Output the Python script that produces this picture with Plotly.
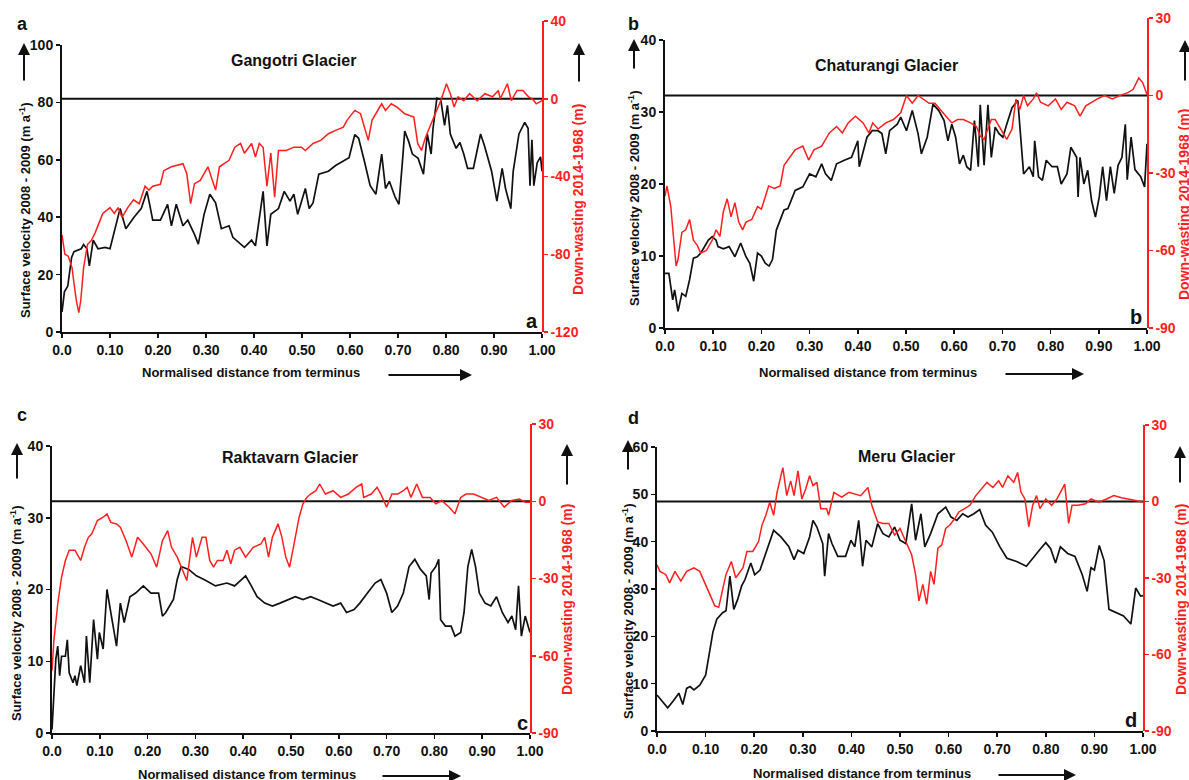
import plotly.graph_objects as go

W, H = 1189, 780

# ---------------- data ----------------
x_tick_values = [0.0, 0.1, 0.2, 0.3, 0.4, 0.5, 0.6, 0.7, 0.8, 0.9, 1.0]
x_tick_labels = ["0.0", "0.10", "0.20", "0.30", "0.40", "0.50", "0.60", "0.70", "0.80", "0.90", "1.00"]

# Gangotri (a): (normalised distance, value)
gangotri_velocity = [
    (0.000, 7), (0.005, 14), (0.012, 16), (0.020, 26), (0.025, 28), (0.040, 29), (0.045, 30.5),
    (0.052, 29), (0.057, 23), (0.065, 32), (0.075, 29), (0.090, 29.5), (0.100, 29), (0.109, 35),
    (0.117, 41), (0.121, 43), (0.133, 36), (0.150, 40), (0.165, 43), (0.177, 49), (0.182, 45),
    (0.189, 39), (0.205, 39), (0.220, 44.5), (0.228, 37), (0.238, 44.5), (0.252, 37), (0.262, 39),
    (0.276, 34), (0.284, 30.6), (0.296, 41), (0.308, 48), (0.320, 45), (0.332, 36), (0.348, 37),
    (0.356, 33), (0.380, 29.5), (0.395, 32), (0.403, 30), (0.419, 49), (0.427, 30), (0.435, 41),
    (0.451, 43), (0.463, 49), (0.475, 45.6), (0.483, 48), (0.491, 41), (0.507, 50), (0.515, 43),
    (0.523, 45), (0.535, 55), (0.555, 56), (0.570, 58), (0.586, 59.5), (0.598, 60.7), (0.610, 68.8),
    (0.618, 67.5), (0.630, 59.5), (0.642, 51), (0.654, 48), (0.666, 62), (0.674, 50), (0.682, 52.5),
    (0.694, 47), (0.702, 44.5), (0.710, 61), (0.714, 70), (0.722, 66.5), (0.730, 62), (0.742, 60.5),
    (0.753, 55), (0.761, 69), (0.769, 62), (0.773, 71), (0.781, 81.5), (0.789, 81), (0.797, 72),
    (0.803, 79), (0.809, 69), (0.821, 64), (0.829, 66), (0.837, 62), (0.845, 57), (0.857, 57),
    (0.872, 69), (0.880, 65), (0.888, 60), (0.895, 56), (0.906, 45.6), (0.917, 57), (0.924, 50),
    (0.935, 43), (0.940, 56), (0.945, 61), (0.952, 69), (0.964, 73), (0.971, 71), (0.975, 51),
    (0.979, 67), (0.983, 51), (0.990, 59), (0.997, 61), (1.000, 56),
]
gangotri_downwasting = [
    (0.000, -70), (0.006, -80), (0.013, -81), (0.021, -87), (0.025, -95), (0.030, -104), (0.035, -110),
    (0.039, -104), (0.045, -87), (0.053, -75), (0.061, -73), (0.069, -69), (0.077, -64), (0.085, -59),
    (0.100, -56), (0.109, -59), (0.117, -56), (0.125, -61), (0.137, -56), (0.149, -52), (0.161, -54),
    (0.173, -45), (0.181, -47), (0.189, -45), (0.205, -44), (0.212, -37), (0.228, -35), (0.252, -33.4),
    (0.260, -38.6), (0.268, -54), (0.276, -43.7), (0.288, -42), (0.304, -35), (0.320, -47), (0.328, -35),
    (0.348, -31.7), (0.360, -24.9), (0.372, -23), (0.380, -28), (0.395, -23), (0.403, -30), (0.411, -23),
    (0.419, -25), (0.427, -45), (0.435, -28), (0.443, -50.6), (0.451, -26.6), (0.467, -26.6),
    (0.483, -24.9), (0.499, -24.9), (0.507, -26.6), (0.523, -23), (0.539, -21.4), (0.555, -18),
    (0.570, -16.3), (0.586, -14.6), (0.594, -11), (0.610, -6), (0.622, -7.7), (0.630, -14.6),
    (0.638, -21.4), (0.646, -11), (0.654, -7.7), (0.666, -2.6), (0.674, -6), (0.686, -2.6),
    (0.698, -4.3), (0.714, -7.7), (0.733, -9.4), (0.741, -23), (0.749, -26.6), (0.757, -20),
    (0.769, -12.9), (0.781, -6), (0.789, -1), (0.801, 7.7), (0.809, 2.6), (0.817, -4.3), (0.825, 1),
    (0.837, -1), (0.849, 2.6), (0.865, -1), (0.881, 2.6), (0.897, 1), (0.909, 4.3), (0.913, 0),
    (0.928, 7.7), (0.936, -1), (0.948, 4.3), (0.960, 4.3), (0.972, 1), (0.980, 0), (0.988, -2.6),
    (1.000, -1),
]

# Chaturangi (b)
chaturangi_velocity = [
    (0.000, 7.6), (0.008, 7.6), (0.016, 3.9), (0.020, 5.3), (0.027, 2.3), (0.035, 4.8), (0.043, 4.4),
    (0.051, 6.7), (0.059, 9.7), (0.067, 9.9), (0.074, 10.4), (0.082, 11.3), (0.090, 12.2), (0.098, 12.7),
    (0.106, 12.2), (0.110, 11.3), (0.121, 11), (0.133, 11.3), (0.145, 9.9), (0.157, 11.8), (0.168, 9.9),
    (0.176, 9), (0.184, 6.5), (0.192, 10.4), (0.200, 10), (0.208, 9), (0.216, 8.6), (0.223, 9.5),
    (0.231, 13.6), (0.247, 16.4), (0.255, 16.6), (0.270, 19.1), (0.286, 19.6), (0.300, 21.4),
    (0.313, 21), (0.325, 22.8), (0.333, 21.4), (0.345, 20.5), (0.356, 22.8), (0.372, 23.3),
    (0.387, 23.7), (0.400, 26), (0.403, 22.4), (0.419, 26.5), (0.430, 27.4), (0.442, 27.4),
    (0.450, 27), (0.458, 24.2), (0.466, 27.4), (0.482, 28.3), (0.489, 29.3), (0.501, 27.4),
    (0.513, 30.2), (0.525, 27), (0.532, 24.2), (0.544, 26.5), (0.556, 31.1), (0.568, 30.2),
    (0.579, 28.8), (0.587, 26), (0.595, 28.3), (0.603, 26.5), (0.611, 22.8), (0.619, 24),
    (0.626, 22.4), (0.634, 21.9), (0.642, 28.8), (0.650, 22.4), (0.654, 31), (0.662, 22.6),
    (0.670, 31), (0.677, 23.7), (0.685, 27.9), (0.693, 27), (0.701, 26.5), (0.709, 28.3),
    (0.720, 30.6), (0.732, 31.6), (0.736, 28), (0.744, 21.4), (0.756, 22.4), (0.764, 21),
    (0.767, 26), (0.775, 21), (0.783, 20.5), (0.791, 23.3), (0.803, 22.4), (0.814, 22.4),
    (0.822, 20), (0.834, 21.4), (0.842, 25.1), (0.854, 23.7), (0.857, 18.2), (0.861, 23.7),
    (0.869, 20), (0.877, 21.9), (0.885, 17.7), (0.893, 15.4), (0.901, 18.2), (0.908, 22.4),
    (0.916, 17.7), (0.924, 22.4), (0.932, 18.7), (0.940, 22.6), (0.948, 23.7), (0.955, 28.3),
    (0.959, 20.6), (0.967, 26.5), (0.975, 22), (0.987, 21), (0.995, 19.6), (1.000, 25.6),
]
chaturangi_downwasting = [
    (0.000, -39), (0.004, -35), (0.012, -43), (0.020, -61), (0.023, -66), (0.027, -63.5), (0.035, -53),
    (0.043, -52), (0.051, -48), (0.059, -56), (0.067, -58), (0.074, -61), (0.086, -60), (0.098, -56),
    (0.106, -52), (0.114, -54.5), (0.121, -45), (0.129, -40), (0.137, -47), (0.145, -41.5),
    (0.153, -49), (0.161, -52), (0.168, -49), (0.180, -48), (0.192, -43), (0.200, -44), (0.208, -39),
    (0.215, -35), (0.227, -36), (0.239, -35), (0.247, -27), (0.255, -25), (0.270, -21), (0.286, -19.6),
    (0.298, -25), (0.309, -21), (0.325, -19.6), (0.341, -14.5), (0.356, -12), (0.368, -14.5),
    (0.380, -10.6), (0.395, -8), (0.411, -10.6), (0.423, -14.5), (0.431, -10.6), (0.442, -13),
    (0.458, -10.6), (0.474, -9.3), (0.489, -6.7), (0.501, 0), (0.513, -3), (0.525, 0), (0.536, -1.3),
    (0.548, -3), (0.560, -3), (0.572, -5.4), (0.583, -8), (0.595, -10.6), (0.607, -9.3),
    (0.619, -9.3), (0.634, -10.6), (0.646, -12), (0.654, -15.7), (0.662, -17), (0.670, -13),
    (0.677, -9.3), (0.685, -9.3), (0.693, -12), (0.701, -14.5), (0.709, -17), (0.720, -13),
    (0.728, -1.5), (0.736, -5.4), (0.744, 0), (0.752, -4), (0.764, -1.3), (0.771, 1), (0.779, -2.6),
    (0.795, -4), (0.810, -1.3), (0.822, -5.4), (0.834, -2.6), (0.850, -4), (0.861, -8), (0.873, -4),
    (0.885, -2.6), (0.897, -1.3), (0.912, 0), (0.928, -1.3), (0.944, 0), (0.959, 1), (0.971, 2.3),
    (0.983, 6.8), (0.991, 5), (1.000, 0.4),
]

# Raktavarn (c)
raktavarn_velocity = [
    (0.000, 0.5), (0.004, 5.6), (0.008, 10.3), (0.012, 12.1), (0.016, 8), (0.020, 10.7), (0.028, 10.7),
    (0.032, 13), (0.036, 8.4), (0.044, 7), (0.048, 8), (0.052, 6.6), (0.060, 9.4), (0.068, 7),
    (0.072, 13.5), (0.079, 7), (0.087, 15.8), (0.095, 10.3), (0.099, 14), (0.107, 11.7), (0.115, 20),
    (0.123, 16.8), (0.135, 12.1), (0.143, 18.1), (0.151, 15.4), (0.163, 19), (0.175, 19.5),
    (0.191, 20.5), (0.207, 19.5), (0.223, 19.5), (0.231, 16.3), (0.238, 16.8), (0.254, 18.6),
    (0.262, 21.4), (0.270, 23.2), (0.286, 22.8), (0.302, 21.9), (0.318, 21.4), (0.330, 20.9),
    (0.342, 20.5), (0.366, 20.9), (0.382, 20.5), (0.397, 21.4), (0.405, 21.9), (0.417, 20.5),
    (0.429, 19), (0.445, 18.1), (0.461, 17.7), (0.477, 18.1), (0.493, 18.6), (0.509, 19),
    (0.525, 18.6), (0.541, 19), (0.556, 18.6), (0.572, 18.1), (0.588, 17.7), (0.604, 18.1),
    (0.616, 16.8), (0.632, 17.2), (0.644, 18.1), (0.660, 19.5), (0.676, 20.9), (0.688, 21.4),
    (0.700, 19.5), (0.711, 16.8), (0.723, 17.7), (0.735, 19.5), (0.747, 23.2), (0.759, 24.2),
    (0.771, 22.8), (0.783, 21.9), (0.789, 18.6), (0.793, 22.3), (0.803, 23.2), (0.809, 24.2),
    (0.813, 15.8), (0.823, 14.9), (0.835, 14.9), (0.843, 13.5), (0.855, 14), (0.862, 16.8),
    (0.870, 23.2), (0.878, 25.6), (0.886, 23.2), (0.894, 19.5), (0.906, 18.1), (0.918, 17.7),
    (0.930, 19), (0.942, 16.8), (0.954, 15.4), (0.962, 16.3), (0.970, 14.4), (0.976, 20.5),
    (0.982, 13.5), (0.990, 16.3), (1.000, 14),
]
raktavarn_downwasting = [
    (0.000, -65.7), (0.004, -54), (0.012, -39.8), (0.020, -29.5), (0.028, -23), (0.036, -19),
    (0.048, -19), (0.060, -23), (0.068, -17.9), (0.076, -14), (0.083, -12.7), (0.095, -7.5),
    (0.107, -6.2), (0.115, -4.9), (0.123, -8.2), (0.135, -8.8), (0.143, -10.1), (0.155, -15.3),
    (0.167, -21.7), (0.179, -14), (0.191, -16.6), (0.207, -20.4), (0.219, -25.6), (0.231, -15.3),
    (0.242, -11.4), (0.250, -17.9), (0.262, -21.7), (0.274, -26.9), (0.282, -30.8), (0.294, -14),
    (0.302, -21.7), (0.314, -14), (0.322, -14), (0.330, -23), (0.338, -25.6), (0.346, -23),
    (0.358, -23), (0.366, -19), (0.374, -24.3), (0.382, -19), (0.393, -17.9), (0.405, -21.7),
    (0.421, -17.9), (0.437, -16.6), (0.445, -14), (0.453, -21.7), (0.461, -14), (0.473, -8.8),
    (0.481, -14), (0.489, -21.7), (0.497, -25.6), (0.505, -17.9), (0.517, -6.2), (0.525, -1),
    (0.533, 1.5), (0.541, 2.8), (0.552, 4.1), (0.560, 6.7), (0.572, 2.8), (0.588, 4.1), (0.604, 1.5),
    (0.620, 2.8), (0.636, 5.4), (0.648, 6.7), (0.652, 1.5), (0.668, 2.8), (0.680, 5.4), (0.688, 2.8),
    (0.700, -2.3), (0.711, 2.8), (0.723, 2.8), (0.735, 4.1), (0.743, 5.4), (0.751, 1.5), (0.763, 6.7),
    (0.775, 1.5), (0.791, 1.5), (0.803, -1), (0.815, 0.3), (0.831, -2.3), (0.843, -4.9), (0.855, 1.5),
    (0.866, 2.8), (0.882, 2.8), (0.898, 1.5), (0.914, 0.3), (0.930, 1.5), (0.946, -2.3), (0.962, 0.3),
    (0.978, 0.9), (0.990, -0.4), (1.000, -0.4),
]

# Meru (d)
meru_velocity = [
    (0.000, 7.6), (0.010, 6.3), (0.022, 4.9), (0.033, 6.3), (0.045, 8), (0.053, 5.6), (0.061, 9),
    (0.068, 9.4), (0.076, 8.7), (0.088, 9.7), (0.100, 11.8), (0.107, 16), (0.115, 20.9), (0.123, 23.6),
    (0.135, 25), (0.142, 25.4), (0.150, 32.7), (0.158, 25.7), (0.166, 27.8), (0.174, 30.6),
    (0.181, 32), (0.193, 35.5), (0.201, 33), (0.212, 34), (0.224, 37.5), (0.240, 42.4), (0.255, 41),
    (0.271, 39), (0.282, 36.2), (0.290, 38.2), (0.302, 37.5), (0.314, 41), (0.321, 44.5),
    (0.329, 43.1), (0.341, 39.6), (0.345, 32.7), (0.353, 41.7), (0.360, 39.6), (0.372, 36.9),
    (0.388, 36.9), (0.399, 40.3), (0.407, 38.9), (0.415, 44.5), (0.423, 34.8), (0.430, 40.3),
    (0.442, 38.9), (0.454, 43.8), (0.465, 41.7), (0.477, 41), (0.489, 43.1), (0.500, 40.3),
    (0.512, 39.6), (0.524, 48), (0.532, 40.3), (0.543, 45.9), (0.551, 38.9), (0.563, 41.7),
    (0.578, 45.9), (0.594, 47.3), (0.605, 45.2), (0.617, 44.5), (0.629, 45.9), (0.640, 45.2),
    (0.652, 45.9), (0.664, 46.8), (0.676, 43.5), (0.690, 42), (0.705, 39), (0.720, 36.5),
    (0.740, 35.8), (0.760, 34.8), (0.780, 37.5), (0.790, 38.6), (0.800, 39.8), (0.810, 38.5),
    (0.820, 35.5), (0.830, 38.9), (0.845, 37.5), (0.860, 36.9), (0.875, 33), (0.885, 29.5),
    (0.893, 34.5), (0.900, 34), (0.910, 39.2), (0.920, 36), (0.930, 25.7), (0.945, 25),
    (0.960, 24.3), (0.975, 22.6), (0.985, 30.2), (0.995, 28.5), (1.000, 28.6),
]
meru_downwasting = [
    (0.000, -24.8), (0.006, -27.4), (0.018, -28.6), (0.026, -31.9), (0.037, -27.4), (0.049, -31.2),
    (0.061, -27.4), (0.076, -26), (0.088, -27.4), (0.100, -32.5), (0.111, -37.7), (0.119, -40.9),
    (0.127, -41.5), (0.135, -35), (0.142, -28.6), (0.153, -23.5), (0.162, -29.9), (0.177, -26),
    (0.185, -19.6), (0.197, -19.6), (0.209, -15.7), (0.216, -9.3), (0.224, -5.4), (0.232, -0.3),
    (0.240, -5.4), (0.247, 3.6), (0.259, 13.3), (0.267, 2.3), (0.275, 8.1), (0.282, 2.3), (0.290, 12),
    (0.298, 1), (0.306, 4.9), (0.314, 10.1), (0.321, 6.2), (0.329, 7.5), (0.337, -2.8), (0.349, -2.8),
    (0.353, -5.4), (0.364, 3.6), (0.380, 1.7), (0.395, 3.6), (0.419, 2.3), (0.434, 5.5), (0.442, -1.5),
    (0.454, -8), (0.465, -8.6), (0.477, -8.6), (0.489, -13.2), (0.500, -10.6), (0.512, -15.7),
    (0.524, -20.9), (0.532, -28.6), (0.539, -39), (0.547, -32.5), (0.555, -40.3), (0.563, -27.4),
    (0.570, -32.5), (0.578, -18.3), (0.586, -17), (0.594, -10.6), (0.602, -9.3), (0.613, -6.7),
    (0.621, -4.1), (0.633, -2.8), (0.644, -1.5), (0.656, 2.3), (0.668, 4.9), (0.679, 7.5),
    (0.691, 5.5), (0.703, 8.1), (0.711, 5.5), (0.722, 10.1), (0.734, 7.5), (0.742, 11.4), (0.749, 3.6),
    (0.757, 1), (0.765, -9.9), (0.773, -1.5), (0.781, 2.3), (0.788, -2.8), (0.800, 1), (0.812, -1.5),
    (0.823, 1), (0.839, 6.8), (0.847, -8.6), (0.854, -1.5), (0.866, -1.5), (0.882, -0.9), (0.893, 1),
    (0.909, -0.3), (0.925, 1), (0.940, 2.3), (0.956, 1.5), (0.971, 1), (0.987, 0.3), (1.000, -0.3),
]

glacier_names = ["Gangotri Glacier", "Chaturangi Glacier", "Raktavarn Glacier", "Meru Glacier"]
panel_letters = ["a", "b", "c", "d"]
velocity_ticks = [[0, 20, 40, 60, 80, 100], [0, 10, 20, 30, 40], [0, 10, 20, 30, 40], [0, 10, 20, 30, 40, 50, 60]]
downwasting_ticks = [[-120, -80, -40, 0, 40], [-90, -60, -30, 0, 30], [-90, -60, -30, 0, 30], [-90, -60, -30, 0, 30]]
velocity_series = [gangotri_velocity, chaturangi_velocity, raktavarn_velocity, meru_velocity]
downwasting_series = [gangotri_downwasting, chaturangi_downwasting, raktavarn_downwasting, meru_downwasting]

LEFT_TITLE = "Surface velocity 2008 - 2009 (m a<sup>-1</sup>)"
RIGHT_TITLE = "Down-wasting 2014-1968 (m)"
X_TITLE = "Normalised distance from terminus"

# ---------------- layout geometry (pixels) ----------------
# left, right, bottom, top of left axis, top of right axis
boxes = [(62, 542, 332, 45, 21), (665, 1147, 328, 40, 18), (52, 530, 733, 446, 424), (657, 1143, 731, 447, 425)]
title_pos = [(293, 61), (886, 65), (290, 457), (906, 456)]
top_letter_pos = [(22, 24), (633, 24), (22, 415), (633, 418)]
inner_letter_pos = [(532, 321), (1136, 317), (522, 723), (1131, 720)]
left_title_pos = [(25, 210), (634, 198), (16, 613), (628, 611)]
left_arrow = [(24, 82, 43), (634, 70, 39), (17, 480, 443), (628, 471, 440)]
right_title_pos = [(578, 200), (1184, 205), (567, 600), (1181, 600)]
right_arrow = [(579, 83, 43), (1185, 82, 40), (567, 486, 444), (1180, 484, 446)]
x_title_pos = [(251, 372), (868, 372), (247, 774), (862, 773)]
x_arrow = [(387, 472, 375), (1004, 1084, 374), (381, 461, 776), (997, 1076, 775)]

RED = "#ff1f1f"
BLACK = "#111111"
FONT = "Liberation Sans, Arial, Helvetica, sans-serif"


def fx(p):
    return p / W


def fy(p):
    return 1 - p / H


def fmt(v):
    return str(v) if v >= 0 else "-" + str(-v)


fig = go.Figure()
layout = dict(
    width=W, height=H, autosize=False, margin=dict(l=0, r=0, t=0, b=0, pad=0, autoexpand=False),
    paper_bgcolor="white", plot_bgcolor="rgba(0,0,0,0)",
    showlegend=False, font=dict(family=FONT, color=BLACK),
)
annotations = []
shapes = []

for i in range(4):
    L, R, B, TL, TR = boxes[i]
    xa = "x" if i == 0 else f"x{i + 1}"
    ya_l = "y" if i == 0 else f"y{2 * i + 1}"
    ya_r = f"y{2 * i + 2}"
    xkey = "xaxis" if i == 0 else f"xaxis{i + 1}"
    ykey_l = "yaxis" if i == 0 else f"yaxis{2 * i + 1}"
    ykey_r = f"yaxis{2 * i + 2}"

    vt = velocity_ticks[i]
    dt = downwasting_ticks[i]

    layout[xkey] = dict(
        domain=[fx(L), fx(R)], anchor=ya_l, range=[0, 1.0], automargin=False,
        tickvals=x_tick_values, ticktext=x_tick_labels,
        showgrid=False, zeroline=False, showline=True, linecolor=BLACK, linewidth=2.2,
        ticks="outside", ticklen=4, tickwidth=1.5, tickcolor=BLACK,
        tickfont=dict(size=14, family=FONT, color=BLACK, weight="bold"),
    )
    layout[ykey_l] = dict(
        domain=[fy(B), fy(TL)], anchor=xa, range=[vt[0], vt[-1]], automargin=False,
        tickvals=vt, ticktext=[fmt(v) for v in vt],
        showgrid=False, zeroline=False, showline=True, linecolor=BLACK, linewidth=2,
        ticks="outside", ticklen=4, tickwidth=1.5, tickcolor=BLACK,
        tickfont=dict(size=14, family=FONT, color=BLACK, weight="bold"),
    )
    layout[ykey_r] = dict(
        domain=[fy(B), fy(TR)], anchor=xa, side="right", range=[dt[0], dt[-1]], automargin=False,
        tickvals=dt, ticktext=[fmt(v) for v in dt],
        showgrid=False, zeroline=False, showline=True, linecolor=RED, linewidth=1.6,
        ticks="outside", ticklen=4, tickwidth=1.5, tickcolor=RED,
        tickfont=dict(size=14, family=FONT, color=RED, weight="bold"),
    )

    shapes.append(dict(type="line", xref=xa, yref=ya_r, x0=0, x1=1.0, y0=0, y1=0,
                       line=dict(color=BLACK, width=2.2), layer="below"))

    vx = [p[0] for p in velocity_series[i]]
    vy = [p[1] for p in velocity_series[i]]
    dx = [p[0] for p in downwasting_series[i]]
    dy = [p[1] for p in downwasting_series[i]]

    fig.add_trace(go.Scatter(x=vx, y=vy, xaxis=xa, yaxis=ya_l, mode="lines",
                             line=dict(color=BLACK, width=1.7), name="Surface velocity"))
    fig.add_trace(go.Scatter(x=dx, y=dy, xaxis=xa, yaxis=ya_r, mode="lines",
                             line=dict(color=RED, width=1.5), name="Down-wasting"))

    tx, ty = title_pos[i]
    annotations.append(dict(x=fx(tx), y=fy(ty), xref="paper", yref="paper", text=glacier_names[i],
                            showarrow=False, xanchor="center", yanchor="middle",
                            font=dict(size=16, family=FONT, color=BLACK, weight="bold")))
    lx, ly = top_letter_pos[i]
    annotations.append(dict(x=fx(lx), y=fy(ly), xref="paper", yref="paper", text=panel_letters[i],
                            showarrow=False, xanchor="center", yanchor="middle",
                            font=dict(size=18, family=FONT, color=BLACK, weight="bold")))
    ix, iy = inner_letter_pos[i]
    annotations.append(dict(x=fx(ix), y=fy(iy), xref="paper", yref="paper", text=panel_letters[i],
                            showarrow=False, xanchor="center", yanchor="middle",
                            font=dict(size=20, family=FONT, color=BLACK, weight="bold")))
    ltx, lty = left_title_pos[i]
    annotations.append(dict(x=fx(ltx), y=fy(lty), xref="paper", yref="paper", text=LEFT_TITLE,
                            showarrow=False, xanchor="center", yanchor="middle", textangle=-90,
                            font=dict(size=13, family=FONT, color=BLACK, weight="bold")))
    ax_, ay0, ay1 = left_arrow[i]
    annotations.append(dict(x=fx(ax_), y=fy(ay1), xref="paper", yref="paper", text="",
                            showarrow=True, ax=0, ay=ay0 - ay1, arrowhead=2, arrowsize=1.2,
                            arrowwidth=2, arrowcolor=BLACK))
    rtx, rty = right_title_pos[i]
    annotations.append(dict(x=fx(rtx), y=fy(rty), xref="paper", yref="paper", text=RIGHT_TITLE,
                            showarrow=False, xanchor="center", yanchor="middle", textangle=-90,
                            font=dict(size=14, family=FONT, color=RED, weight="bold")))
    rx, ry0, ry1 = right_arrow[i]
    annotations.append(dict(x=fx(rx), y=fy(ry1), xref="paper", yref="paper", text="",
                            showarrow=True, ax=0, ay=ry0 - ry1, arrowhead=2, arrowsize=1.2,
                            arrowwidth=2, arrowcolor=BLACK))
    xtx, xty = x_title_pos[i]
    annotations.append(dict(x=fx(xtx), y=fy(xty), xref="paper", yref="paper", text=X_TITLE,
                            showarrow=False, xanchor="center", yanchor="middle",
                            font=dict(size=13, family=FONT, color=BLACK, weight="bold")))
    x0a, x1a, ya_ = x_arrow[i]
    annotations.append(dict(x=fx(x1a), y=fy(ya_), xref="paper", yref="paper", text="",
                            showarrow=True, ax=x0a - x1a, ay=0, arrowhead=2, arrowsize=1.2,
                            arrowwidth=2, arrowcolor=BLACK))

layout["annotations"] = annotations
layout["shapes"] = shapes
fig.update_layout(**layout)

# remove the default page margin so the 1189x780 figure fills the window exactly
page_fix = ("document.documentElement.style.margin='0';document.documentElement.style.padding='0';"
            "document.body.style.margin='0';document.body.style.padding='0';"
            "document.body.style.overflow='hidden';")
fig.write_html("out.html", post_script=page_fix, config={"displayModeBar": False, "staticPlot": True})
